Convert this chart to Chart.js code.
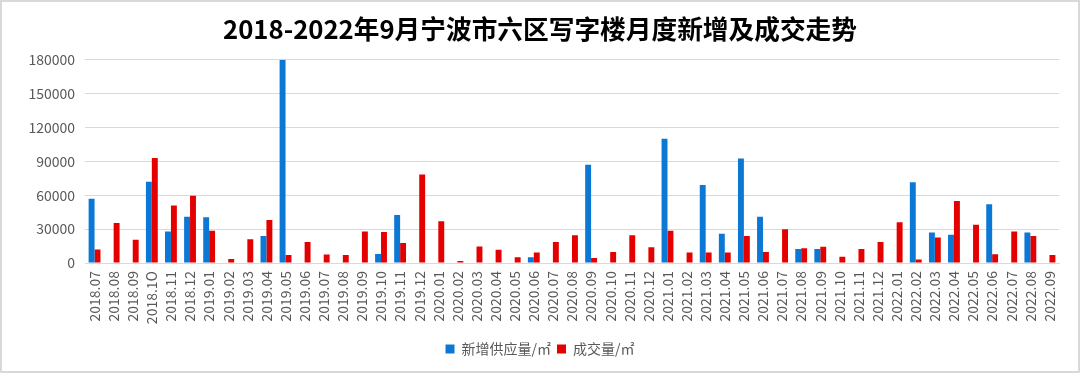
<!DOCTYPE html>
<html>
<head>
<meta charset="utf-8">
<script src="https://cdn.jsdelivr.net/npm/chart.js@4/dist/chart.umd.min.js"></script>
<style>
  html, body { margin: 0; padding: 0; background: #fff; }
  #wrap { position: relative; width: 1080px; height: 373px; }
  canvas { display: block; }
</style>
</head>
<body>
<div id="wrap"><canvas id="c" width="1080" height="373"></canvas></div>
<script>
const titleText = '2018-2022年9月宁波市六区写字楼月度新增及成交走势';
const months = ['2018.07','2018.08','2018.09','2018.1O','2018.11','2018.12',
  '2019.01','2019.02','2019.03','2019.04','2019.05','2019.06','2019.07','2019.08','2019.09','2019.10','2019.11','2019.12',
  '2020.01','2020.02','2020.03','2020.04','2020.05','2020.06','2020.07','2020.08','2020.09','2020.10','2020.11','2020.12',
  '2021.01','2021.02','2021.03','2021.04','2021.05','2021.06','2021.07','2021.08','2021.09','2021.10','2021.11','2021.12',
  '2022.01','2022.02','2022.03','2022.04','2022.05','2022.06','2022.07','2022.08','2022.09'];
const supplyName = '新增供应量/㎡';
const dealName = '成交量/㎡';
const supply = [57000,0,0,72000,28000,41000,
  40500,0,0,24000,180000,0,0,0,0,8000,42500,0,
  0,0,0,0,0,5000,0,0,87000,0,0,0,
  110000,0,69000,26000,92500,41000,0,12400,12400,0,0,0,
  0,71500,27000,25000,0,52000,0,27000,0];
const deal = [12000,35500,20500,93000,51000,59500,
  28500,3500,21000,38000,7000,18500,7500,7000,28000,27500,17700,78500,
  37000,1700,14700,11800,5000,9200,18600,24500,4400,9700,24500,13900,
  28600,9200,9200,9200,24000,9700,29800,13000,14500,5600,12400,18600,
  36000,3000,22700,55000,34000,7700,28000,24000,7000];
const yTicks = [0,30000,60000,90000,120000,150000,180000];

const FONT = '"Noto Sans CJK SC", "Noto Sans", sans-serif';

const borderPlugin = {
  id: 'frame',
  afterDraw(chart) {
    const ctx = chart.ctx;
    ctx.save();
    ctx.strokeStyle = '#d9d9d9';
    ctx.lineWidth = 2;
    ctx.strokeRect(1, 1, chart.width - 2, chart.height - 2);
    ctx.restore();
  }
};

new Chart(document.getElementById('c'), {
  type: 'bar',
  data: {
    labels: months,
    datasets: [
      { label: supplyName, data: supply, backgroundColor: '#0A78D4', borderWidth: 0 },
      { label: dealName, data: deal, backgroundColor: '#E50000', borderWidth: 0 }
    ]
  },
  options: {
    responsive: false,
    animation: false,
    devicePixelRatio: 1,
    layout: { padding: { top: 0, left: 2, right: 2, bottom: 7 } },
    datasets: { bar: { categoryPercentage: 0.62, barPercentage: 1.0 } },
    plugins: {
      title: {
        display: true,
        text: titleText,
        color: '#000',
        font: { family: FONT, size: 25.7, weight: 'bold', lineHeight: 1.2 },
        padding: { top: 14, bottom: 15 }
      },
      legend: {
        position: 'bottom',
        labels: {
          color: '#595959',
          font: { family: FONT, size: 14 },
          boxWidth: 9, boxHeight: 9, padding: 6
        }
      },
      tooltip: { enabled: false }
    },
    scales: {
      x: {
        grid: { display: false, drawTicks: false },
        border: { display: true, color: '#d9d9d9', width: 1 },
        ticks: {
          color: '#595959', font: { family: FONT, size: 14 },
          minRotation: 90, maxRotation: 90, autoSkip: false, padding: 8
        },
        afterFit(s) { s.height = 73; }
      },
      y: {
        min: 0, max: 180000,
        afterBuildTicks(s) { s.ticks = yTicks.map(v => ({ value: v })); },
        grid: { color: '#d9d9d9', lineWidth: 1, drawTicks: false },
        border: { display: false },
        ticks: {
          color: '#595959', font: { family: FONT, size: 14 }, padding: 10,
          callback: v => String(v)
        },
        afterFit(s) { s.width = 83; }
      },
      yRight: {
        position: 'right',
        min: 0, max: 180000,
        grid: { display: false, drawTicks: false },
        border: { display: false },
        ticks: { display: false },
        afterFit(s) { s.width = 19; }
      }
    }
  },
  plugins: [borderPlugin]
});
</script>
</body>
</html>
